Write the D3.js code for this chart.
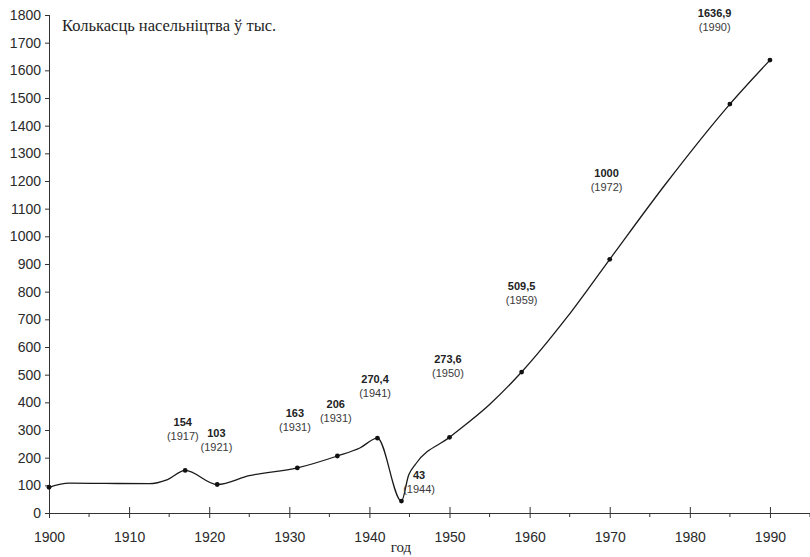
<!DOCTYPE html>
<html><head><meta charset="utf-8">
<title>Колькасць насельніцтва</title>
<script src="https://cdn.jsdelivr.net/npm/d3@7"></script>
<style>
  body { margin: 0; background: #fff; }
  svg { display: block; }
  .tick text { font-family: "Liberation Sans", Arial, sans-serif; font-size: 14px; fill: #2a2a2a; }
  .domain, .tick line { stroke: #333; }
  .val { font-family: "Liberation Sans", Arial, sans-serif; font-size: 11px; font-weight: bold; fill: #222; }
  .yr { font-family: "Liberation Sans", Arial, sans-serif; font-size: 11px; fill: #3a3a3a; }
  .serif { font-family: "Liberation Serif", "Times New Roman", serif; fill: #1e1e1e; }
</style>
</head>
<body>
<svg width="810" height="557"></svg>
<script>
// curve (thousands)
var lineYears  = [1900, 1902.5, 1907, 1912.5, 1914.8, 1917, 1921, 1925, 1931, 1936, 1938.8, 1941, 1944, 1944.9, 1945.8, 1950, 1955, 1959, 1964.6, 1970, 1977, 1985, 1990];
var lineValues = [93, 108, 107, 106, 121, 154, 103, 135, 163, 206, 235, 270.4, 43, 137, 178, 273.6, 392, 509.5, 705, 917, 1190, 1478, 1636.9];

// dots on the curve
var dotYears  = [1900, 1917, 1921, 1931, 1936, 1941, 1944, 1950, 1959, 1970, 1985, 1990];
var dotValues = [93, 154, 103, 163, 206, 270.4, 43, 273.6, 509.5, 917, 1478, 1636.9];

// annotations
var labelValues = ["154", "103", "163", "206", "270,4", "43", "273,6", "509,5", "1000", "1636,9"];
var labelYears  = ["(1917)", "(1921)", "(1931)", "(1931)", "(1941)", "(1944)", "(1950)", "(1959)", "(1972)", "(1990)"];
// where each annotation sits, in axis units [year, value]
var labelSpots = [[1916.7, 316], [1920.9, 274], [1930.7, 346], [1935.8, 381], [1940.7, 469],
                  [1946.2, 124], [1949.8, 541], [1959.0, 805], [1969.6, 1214], [1983.1, 1794]];

var yTicks = d3.range(0, 1801, 100);
var xTicks = d3.range(1900, 1991, 10);
var xMinor = d3.range(1905, 1996, 10);

var svg = d3.select("svg");
var x = d3.scaleLinear().domain([1900, 1995]).range([49, 810]);
var y = d3.scaleLinear().domain([0, 1800]).range([513, 15]);

// y axis
svg.append("g")
  .attr("transform", "translate(49,0)")
  .call(d3.axisLeft(y).tickValues(yTicks).tickSize(4).tickPadding(4).tickFormat(d3.format("d")))
  .call(function(g){ g.select(".domain").attr("d", "M0.5," + y(0) + "V" + y(1800)); });

// x axis: major ticks cross the line, minor ticks below
var xg = svg.append("g").attr("transform", "translate(0,513)");
xg.call(d3.axisBottom(x).tickValues(xTicks).tickSize(5).tickPadding(14).tickFormat(d3.format("d")))
  .call(function(g){
    g.select(".domain").attr("d", "M" + x(1900) + ",0.5H810");
    g.selectAll(".tick line").attr("y1", -6);
  });
xg.selectAll(".minor").data(xMinor).enter().append("line")
  .attr("class", "minor")
  .attr("x1", function(d){ return x(d); }).attr("x2", function(d){ return x(d); })
  .attr("y1", 0).attr("y2", 4)
  .attr("stroke", "#333");

// curve
var pts = lineYears.map(function(d, i){ return [d, lineValues[i]]; });
var line = d3.line()
  .x(function(d){ return x(d[0]); })
  .y(function(d){ return y(d[1]); })
  .curve(d3.curveMonotoneX);
svg.append("path")
  .datum(pts)
  .attr("d", line)
  .attr("fill", "none")
  .attr("stroke", "#1a1a1a")
  .attr("stroke-width", 1.3);

svg.selectAll(".dot").data(dotYears).enter().append("circle")
  .attr("class", "dot")
  .attr("cx", function(d){ return x(d); })
  .attr("cy", function(d, i){ return y(dotValues[i]); })
  .attr("r", 2.4)
  .attr("fill", "#111");

// annotations
var ann = svg.selectAll(".ann").data(labelValues).enter().append("g")
  .attr("class", "ann")
  .attr("transform", function(d, i){ return "translate(" + x(labelSpots[i][0]) + "," + y(labelSpots[i][1]) + ")"; });
ann.append("text").attr("class", "val").attr("text-anchor", "middle").text(function(d){ return d; });
ann.append("text").attr("class", "yr").attr("text-anchor", "middle").attr("y", 14)
  .text(function(d, i){ return labelYears[i]; });

// titles
svg.append("text").attr("class", "serif")
  .attr("x", 62).attr("y", 31)
  .style("font-size", "16.5px")
  .text("Колькасць насельніцтва ў тыс.");
svg.append("text").attr("class", "serif")
  .attr("x", 401).attr("y", 552)
  .attr("text-anchor", "middle")
  .style("font-size", "15px")
  .text("год");
</script>
</body></html>
